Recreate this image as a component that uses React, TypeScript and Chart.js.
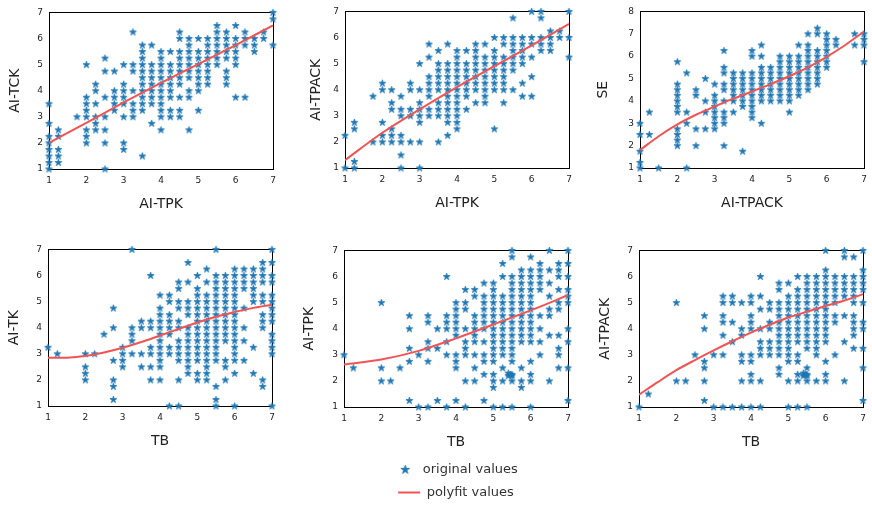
import { useEffect, useRef } from 'react';
import { Chart, registerables } from 'chart.js';

Chart.register(...registerables);
Chart.defaults.font.family = "'DejaVu Sans', 'Liberation Sans', sans-serif";

type Column = [number, number[]];

// Scatter observations, grouped by x value: [x, [y, y, ...]]
const tckVsTpk: Column[] = [
  [1, [1, 1.25, 1.5, 1.75, 2, 2.25, 2.75, 3.5]],
  [1.25, [1.25, 1.5, 1.75, 2.25, 2.5]],
  [1.75, [3]],
  [2, [2, 2.25, 2.5, 3, 3.25, 3.5, 3.75, 5]],
  [2.25, [2.5, 2.75, 3, 3.5, 4, 4.25]],
  [2.5, [1, 2, 2.5, 3, 3.75, 4.75, 5.25]],
  [2.75, [3.25, 3.5, 3.75, 4, 4.75]],
  [3, [1.75, 2, 3, 3.5, 3.75, 4, 4.25, 5]],
  [3.25, [3, 3.25, 3.5, 4, 4.75, 5, 6.25]],
  [3.5, [1.5, 3.25, 3.5, 3.75, 4, 4.25, 4.5, 4.75, 5, 5.25, 5.5, 5.75]],
  [3.75, [2.75, 3.5, 3.75, 4, 4.25, 4.5, 4.75, 5, 5.75]],
  [4, [2.5, 3, 3.25, 3.5, 3.75, 4, 4.25, 4.5, 4.75, 5, 5.25, 5.5]],
  [4.25, [3, 3.25, 3.75, 4, 4.25, 4.5, 4.75, 5, 5.5]],
  [4.5, [3, 3.25, 3.75, 4.25, 4.5, 4.75, 5, 5.25, 5.5, 6, 6.25]],
  [4.75, [2.5, 3.75, 4, 4.5, 4.75, 5, 5.25, 5.5, 5.75, 6]],
  [5, [3.25, 4, 4.25, 4.5, 4.75, 5, 5.25, 5.5, 6]],
  [5.25, [4.25, 4.5, 4.75, 5, 5.25, 5.5, 5.75, 6]],
  [5.5, [5, 5.25, 5.5, 5.75, 6, 6.25, 6.5]],
  [5.75, [4.25, 4.5, 4.75, 5.25, 5.5, 5.75, 6, 6.25]],
  [6, [3.75, 5, 5.25, 5.5, 5.75, 6, 6.5]],
  [6.25, [3.75, 5.75, 6, 6.25]],
  [6.5, [5.5, 5.75, 6]],
  [6.75, [6, 6.25]],
  [7, [5.75, 6.75, 7]],
];

const tpackVsTpk: Column[] = [
  [1, [1, 2.25]],
  [1.25, [1, 1.25, 2.5, 2.75]],
  [1.75, [2, 3.75]],
  [2, [2, 2.25, 2.75, 4, 4.25]],
  [2.25, [2, 2.25, 2.5, 3.25, 3.5, 4]],
  [2.5, [1, 1.5, 2, 2.25, 3, 3.25, 3.75]],
  [2.75, [2, 3, 3.25, 4, 4.25]],
  [3, [1, 2, 2.75, 3, 3.25, 3.5, 4, 5]],
  [3.25, [3, 3.25, 3.75, 4, 4.25, 4.5, 5.25, 5.75]],
  [3.5, [2, 3, 3.25, 3.5, 4, 4.25, 4.5, 4.75, 5, 5.5]],
  [3.75, [2.25, 2.75, 3, 3.25, 3.5, 3.75, 4, 4.25, 4.5, 4.75, 5, 5.75]],
  [4, [2.5, 2.75, 3, 3.25, 3.5, 3.75, 4, 4.25, 4.5, 4.75, 5, 5.25, 5.5]],
  [4.25, [3.25, 3.75, 4, 4.25, 4.5, 4.75, 5, 5.5]],
  [4.5, [3.5, 4, 4.25, 4.5, 4.75, 5, 5.25, 5.5, 5.75]],
  [4.75, [3.5, 3.75, 4, 4.25, 4.5, 4.75, 5, 5.25, 5.75]],
  [5, [2.5, 4, 4.25, 4.5, 4.75, 5, 5.25, 5.5, 6]],
  [5.25, [3.5, 4, 4.25, 4.5, 4.75, 5, 5.25, 5.75, 6]],
  [5.5, [4, 4.75, 5, 5.25, 5.5, 5.75, 6, 6.75]],
  [5.75, [3.75, 4.25, 5, 5.25, 5.5, 5.75, 6]],
  [6, [3.75, 4.5, 5.25, 5.75, 6, 7]],
  [6.25, [5.5, 5.75, 6, 6.75, 7]],
  [6.5, [5.5, 5.75, 6, 6.25]],
  [6.75, [6, 6.25]],
  [7, [5.25, 6, 7]],
];

const seVsTpack: Column[] = [
  [1, [1, 1.25, 1.75, 2.5, 3]],
  [1.25, [2.5, 3.5]],
  [1.5, [1]],
  [2, [2, 2.25, 2.5, 2.75, 3.5, 3.75, 4, 4.25, 4.5, 4.75, 5.75]],
  [2.25, [1, 3, 3.5, 5.25]],
  [2.5, [2, 2.75, 4.25, 4.5]],
  [2.75, [2.75, 3.5, 4, 5]],
  [3, [2.75, 3, 3.25, 3.5, 3.75, 4, 4.25, 4.75]],
  [3.25, [2, 3, 3.25, 3.5, 4, 4.5, 4.75, 5.25, 5.5, 6.25]],
  [3.5, [3.5, 4, 4.25, 4.5, 4.75, 5, 5.25]],
  [3.75, [1.75, 3.75, 4, 4.25, 4.5, 4.75, 5, 5.25]],
  [4, [3.25, 3.5, 3.75, 4, 4.25, 4.5, 4.75, 5, 5.25, 6, 6.25]],
  [4.25, [3, 4, 4.25, 4.5, 4.75, 5, 5.25, 5.5, 6, 6.5]],
  [4.5, [4, 4.25, 4.5, 4.75, 5, 5.25, 5.5]],
  [4.75, [4, 4.25, 4.5, 4.75, 5, 5.25, 5.5, 5.75, 6]],
  [5, [3.5, 4, 4.25, 4.5, 4.75, 5, 5.25, 5.5, 5.75, 6]],
  [5.25, [4.25, 4.5, 4.75, 5, 5.25, 5.5, 5.75, 6, 6.5]],
  [5.5, [4.5, 4.75, 5, 5.25, 5.5, 5.75, 6, 6.25, 6.5, 7]],
  [5.75, [4.75, 5, 5.25, 5.5, 5.75, 6, 6.25, 7, 7.25]],
  [6, [5.5, 5.75, 6, 6.25, 6.5, 6.75, 7]],
  [6.25, [6.5, 6.75]],
  [6.75, [6.5, 7]],
  [7, [5.75, 6.5, 6.75, 7]],
];

const tkVsTb: Column[] = [
  [1, [3.25]],
  [1.25, [3]],
  [2, [2, 2.25, 2.5, 3]],
  [2.25, [3]],
  [2.5, [3.75]],
  [2.75, [1.25, 1.75, 2, 2.75, 4, 4.75]],
  [3, [2.5, 2.75, 3, 3.25]],
  [3.25, [3, 3.5, 3.75, 4, 7]],
  [3.5, [2.5, 3, 4, 4.25]],
  [3.75, [2, 2.5, 3, 3.25, 4, 4.25, 6]],
  [4, [2, 2.5, 2.75, 3, 3.25, 3.5, 3.75, 4, 4.25, 4.5, 4.75, 5.25]],
  [4.25, [1, 3, 3.25, 3.75, 4, 4.25, 4.5, 5, 5.25]],
  [4.5, [1, 2, 2.75, 3, 3.25, 3.5, 4, 4.25, 4.75, 5, 5.5, 5.75]],
  [4.75, [2.25, 2.5, 2.75, 3, 3.25, 3.5, 3.75, 4, 4.5, 4.75, 5, 5.75, 6.5]],
  [5, [2, 2.25, 2.75, 3, 3.25, 3.5, 3.75, 4, 4.25, 4.5, 4.75, 5, 5.25, 5.5, 6]],
  [5.25, [2, 2.25, 2.5, 2.75, 3, 3.25, 3.5, 3.75, 4, 4.25, 4.5, 4.75, 5, 5.25, 5.75, 6.25]],
  [5.5, [1, 1.25, 1.75, 2.75, 3, 3.25, 3.5, 3.75, 4, 4.25, 4.5, 4.75, 5, 5.25, 5.5, 5.75, 6, 7]],
  [5.75, [2, 2.5, 2.75, 3.5, 3.75, 4, 4.25, 4.5, 4.75, 5, 5.25, 5.5, 5.75, 6]],
  [6, [1, 2.25, 2.75, 3, 3.25, 3.5, 3.75, 4, 4.25, 4.5, 4.75, 5, 5.25, 5.5, 5.75, 6, 6.25]],
  [6.25, [2.75, 3.5, 4, 4.75, 5.5, 5.75, 6, 6.25]],
  [6.5, [2.25, 3.25, 5, 5.25, 5.5, 5.75, 6, 6.25]],
  [6.75, [1.75, 2, 4, 4.25, 4.5, 5, 5.25, 5.75, 6, 6.25, 6.5]],
  [7, [1, 3, 3.25, 3.5, 3.75, 4.25, 4.5, 4.75, 5, 5.25, 5.75, 6, 6.5, 7]],
];

const tpkVsTb: Column[] = [
  [1, [3]],
  [1.25, [2.5]],
  [2, [2, 2.5, 5]],
  [2.25, [2]],
  [2.5, [2.5]],
  [2.75, [1.25, 2.75, 3.25, 4, 4.5]],
  [3, [1, 3]],
  [3.25, [1, 2.75, 3.25, 3.5, 4.25, 4.5]],
  [3.5, [1.25, 3.25, 4]],
  [3.75, [1, 3, 3.5, 4, 4.25, 4.5, 6]],
  [4, [1.25, 2.5, 2.75, 3, 3.75, 4, 4.25, 4.5, 4.75, 5]],
  [4.25, [1, 2, 3, 3.25, 3.5, 4, 4.75, 5, 5.5]],
  [4.5, [2, 2.5, 3, 3.5, 3.75, 4, 4.25, 4.5, 5.25, 5.5]],
  [4.75, [1.25, 2.25, 2.75, 3, 3.5, 4, 4.25, 4.5, 4.75, 5, 5.25, 5.75]],
  [5, [1, 1.75, 2, 2.25, 2.75, 3, 3.25, 3.5, 3.75, 4, 4.25, 4.5, 4.75, 5, 5.25, 5.5, 5.75]],
  [5.25, [1, 2, 2.5, 3, 3.25, 3.5, 3.75, 4, 4.25, 4.5, 4.75, 5, 5.25, 6, 6.5]],
  [5.4, [2.2, 2.3]],
  [5.45, [2.25]],
  [5.5, [1, 2, 2.2, 2.25, 2.75, 3, 3.25, 3.5, 3.75, 4, 4.25, 4.5, 4.75, 5, 5.25, 5.5, 5.75, 6, 6.75, 7]],
  [5.75, [1.75, 2, 2.5, 3.5, 3.75, 4, 4.25, 4.5, 4.75, 5, 5.25, 5.5, 5.75, 6, 6.25]],
  [6, [1, 2, 2.25, 2.75, 3.5, 3.75, 4, 4.25, 4.5, 4.75, 5, 5.25, 5.5, 5.75, 6, 6.25, 6.75]],
  [6.25, [3, 3.5, 4, 4.5, 5.5, 5.75, 6, 6.25, 6.5]],
  [6.5, [2, 3.75, 4.5, 4.75, 5.25, 5.75, 6.25, 7]],
  [6.75, [2.5, 3, 3.25, 3.75, 4.75, 5, 5.5, 6, 6.25, 6.5]],
  [7, [1.25, 2.5, 3.5, 4, 5, 5.25, 5.5, 6, 6.5, 7]],
];

const tpackVsTb: Column[] = [
  [1, [1]],
  [1.25, [1.5]],
  [2, [2, 5]],
  [2.25, [2]],
  [2.5, [3]],
  [2.75, [1.25, 2, 2.5, 2.75, 4, 4.5]],
  [3, [1, 3]],
  [3.25, [1, 3, 3.75, 4.25, 4.5, 5, 5.25]],
  [3.5, [1, 3.5, 4.25, 5, 5.25]],
  [3.75, [1, 2, 2.75, 3, 3.75, 4, 5]],
  [4, [1, 2, 2.25, 2.75, 3, 4, 4.25, 4.5, 5, 5.25]],
  [4.25, [1, 2, 3, 3.25, 3.5, 4, 4.75, 5.25, 6]],
  [4.5, [3, 3.25, 3.5, 4, 4.25, 4.75, 5]],
  [4.75, [2.25, 2.5, 3, 3.25, 3.5, 3.75, 4, 4.25, 4.5, 4.75, 5, 5.5, 5.75]],
  [5, [1, 2, 2.75, 3, 3.25, 3.5, 3.75, 4, 4.25, 4.5, 4.75, 5, 5.25, 5.75]],
  [5.25, [1, 2, 2.25, 2.75, 3, 3.5, 3.75, 4, 4.25, 4.5, 4.75, 5, 5.25, 5.5, 6]],
  [5.4, [2.2, 2.3]],
  [5.45, [2.25]],
  [5.5, [1, 2, 2.2, 2.25, 2.5, 3.25, 3.5, 3.75, 4, 4.25, 4.5, 4.75, 5, 5.25, 5.5, 5.75, 6]],
  [5.75, [2, 3, 3.25, 3.5, 3.75, 4, 4.25, 4.5, 4.75, 5, 5.25, 5.5, 5.75, 6]],
  [6, [2, 2.25, 2.75, 3.5, 3.75, 4, 4.25, 4.5, 4.75, 5, 5.25, 5.5, 5.75, 6, 6.25, 7]],
  [6.25, [3, 4.25, 4.5, 5, 5.25, 5.5, 5.75, 6]],
  [6.5, [2, 3.5, 4.5, 5.25, 5.5, 5.75, 6, 6.75, 7]],
  [6.75, [3.25, 3.75, 4, 4.25, 4.5, 5, 5.25, 5.5, 5.75, 6, 6.75]],
  [7, [1.25, 2.5, 3.25, 4, 4.25, 5, 5.5, 5.75, 6, 6.25, 7]],
];

// Polynomial fit curves, sampled along x
const fitXInt = [1, 2, 3, 4, 5, 6, 7];
const fitXHalf = [1, 1.5, 2, 2.5, 3, 3.5, 4, 4.5, 5, 5.5, 6, 6.5, 7];
const tckFit = [2.0, 2.77, 3.55, 4.3, 5.02, 5.75, 6.5];
const tpackFit = [1.3, 2.35, 3.25, 4.1, 4.9, 5.7, 6.52];
const seFit = [1.8, 2.42, 2.95, 3.38, 3.75, 4.1, 4.42, 4.75, 5.1, 5.5, 5.97, 6.5, 7.1];
const tkTbFit = [2.85, 2.85, 2.92, 3.05, 3.23, 3.45, 3.7, 3.95, 4.2, 4.42, 4.6, 4.76, 4.88];
const tpkTbFit = [2.63, 2.82, 3.15, 3.63, 4.16, 4.7, 5.28];
const tpackTbFit = [1.47, 1.95, 2.41, 2.8, 3.17, 3.52, 3.85, 4.15, 4.43, 4.65, 4.87, 5.08, 5.32];

const BLUE = '#1f77b4';
const RED = '#f05454';
const TEXT = '#222222';

const PLOT_W = 224;
const PLOT_H = 158;
const AXIS_W = 50;
const AXIS_H = 48;
const PAD_TOP = 10;
const PAD_RIGHT = 16;
const PAD_BOTTOM = 4;

function makeStar(r: number, color: string): HTMLCanvasElement {
  const size = Math.ceil(2 * r + 3);
  const c = document.createElement('canvas');
  c.width = size;
  c.height = size;
  const ctx = c.getContext('2d')!;
  const cx = size / 2;
  const cy = size / 2 + r * 0.06;
  ctx.beginPath();
  for (let i = 0; i < 10; i++) {
    const rad = i % 2 === 0 ? r : r * 0.382;
    const a = -Math.PI / 2 + (i * Math.PI) / 5;
    const px = cx + rad * Math.cos(a);
    const py = cy + rad * Math.sin(a);
    if (i === 0) ctx.moveTo(px, py);
    else ctx.lineTo(px, py);
  }
  ctx.closePath();
  ctx.fillStyle = color;
  ctx.fill();
  ctx.lineWidth = 0.8;
  ctx.strokeStyle = color;
  ctx.stroke();
  return c;
}

// Black frame around the plotting area, drawn under the markers
const framePlugin = {
  id: 'frame',
  beforeDatasetsDraw(chart: any) {
    const { ctx, chartArea: a } = chart;
    ctx.save();
    ctx.strokeStyle = '#000';
    ctx.lineWidth = 1;
    ctx.strokeRect(
      Math.round(a.left) + 0.5,
      Math.round(a.top) + 0.5,
      Math.round(a.right - a.left),
      Math.round(a.bottom - a.top)
    );
    ctx.restore();
  },
};

type PanelProps = {
  left: number;
  top: number;
  yMax: number;
  xTitle: string;
  yTitle: string;
  titleGap: number;
  columns: Column[];
  fitX: number[];
  fitY: number[];
};

function Panel({ left, top, yMax, xTitle, yTitle, titleGap, columns, fitX, fitY }: PanelProps) {
  const ref = useRef<HTMLCanvasElement>(null);
  const width = AXIS_W + PLOT_W + PAD_RIGHT;
  const height = PAD_TOP + PLOT_H + AXIS_H + PAD_BOTTOM;

  useEffect(() => {
    if (!ref.current) return;
    const star = makeStar(3.6, BLUE);
    const points = columns.flatMap(([x, ys]) => ys.map((y) => ({ x, y })));
    const curve = fitX.map((x, i) => ({ x, y: fitY[i] }));
    const tickFont = { size: 9 };
    const chart = new Chart(ref.current, {
      type: 'scatter',
      data: {
        datasets: [
          {
            type: 'line',
            label: 'polyfit values',
            data: curve,
            borderColor: RED,
            borderWidth: 2,
            pointRadius: 0,
            cubicInterpolationMode: 'monotone',
            fill: false,
            order: 0,
          } as any,
          {
            label: 'original values',
            data: points,
            pointStyle: star,
            pointRadius: 4,
            backgroundColor: BLUE,
            borderColor: BLUE,
            clip: false,
            order: 1,
          } as any,
        ],
      },
      options: {
        responsive: false,
        animation: false,
        events: [],
        layout: { padding: { top: PAD_TOP, right: PAD_RIGHT, bottom: PAD_BOTTOM, left: 0 } },
        plugins: { legend: { display: false }, tooltip: { enabled: false } },
        scales: {
          x: {
            type: 'linear',
            min: 1,
            max: 7,
            grid: { display: false, drawTicks: false },
            border: { display: false },
            ticks: { stepSize: 1, padding: 6, color: TEXT, font: tickFont, maxRotation: 0 },
            title: {
              display: true,
              text: xTitle,
              color: TEXT,
              font: { size: 14 },
              padding: { top: 0, bottom: 4 },
            },
            afterFit: (s: any) => {
              s.height = AXIS_H;
            },
          },
          y: {
            type: 'linear',
            min: 1,
            max: yMax,
            grid: { display: false, drawTicks: false },
            border: { display: false },
            ticks: { stepSize: 1, padding: 6, color: TEXT, font: tickFont },
            title: {
              display: true,
              text: yTitle,
              color: TEXT,
              font: { size: 14 },
              padding: { top: AXIS_W - titleGap - 8.4, bottom: 0 },
            },
            afterFit: (s: any) => {
              s.width = AXIS_W;
            },
          },
        },
      } as any,
      plugins: [framePlugin],
    });
    return () => chart.destroy();
  }, [columns, fitX, fitY, xTitle, yTitle, yMax, titleGap]);

  return (
    <canvas
      ref={ref}
      width={width}
      height={height}
      style={{
        position: 'absolute',
        left: left - AXIS_W,
        top: top - PAD_TOP,
        width,
        height,
      }}
    />
  );
}

function Legend({ left, top }: { left: number; top: number }) {
  const ref = useRef<HTMLCanvasElement>(null);
  const width = 200;
  const height = 120;
  useEffect(() => {
    if (!ref.current) return;
    const star = makeStar(4.6, BLUE);
    const chart = new Chart(ref.current, {
      type: 'line',
      data: {
        datasets: [
          {
            label: 'original values',
            data: [],
            showLine: false,
            pointStyle: star,
            backgroundColor: BLUE,
            borderColor: BLUE,
          } as any,
          {
            label: 'polyfit values',
            data: [],
            pointStyle: 'line',
            borderColor: RED,
            backgroundColor: RED,
            borderWidth: 2,
          } as any,
        ],
      },
      options: {
        responsive: false,
        animation: false,
        events: [],
        scales: { x: { display: false }, y: { display: false } },
        plugins: {
          tooltip: { enabled: false },
          legend: {
            display: true,
            position: 'top',
            maxHeight: 60,
            labels: {
              usePointStyle: true,
              pointStyleWidth: 22,
              color: '#333',
              font: { size: 13 },
              padding: 10,
            },
          },
        },
      } as any,
    });
    return () => chart.destroy();
  }, []);
  return (
    <canvas
      ref={ref}
      width={width}
      height={height}
      style={{ position: 'absolute', left, top, width, height }}
    />
  );
}

export default function App() {
  return (
    <div
      style={{
        position: 'fixed',
        left: 0,
        top: 0,
        width: 872,
        height: 506,
        background: '#fff',
        overflow: 'hidden',
      }}
    >
      <Panel left={49} top={11} yMax={7} xTitle="AI-TPK" yTitle="AI-TCK" titleGap={34} columns={tckVsTpk} fitX={fitXInt} fitY={tckFit} />
      <Panel left={345} top={10} yMax={7} xTitle="AI-TPK" yTitle="AI-TPACK" titleGap={29} columns={tpackVsTpk} fitX={fitXInt} fitY={tpackFit} />
      <Panel left={640} top={10} yMax={8} xTitle="AI-TPACK" yTitle="SE" titleGap={37} columns={seVsTpack} fitX={fitXHalf} fitY={seFit} />
      <Panel left={48} top={248} yMax={7} xTitle="TB" yTitle="AI-TK" titleGap={34} columns={tkVsTb} fitX={fitXHalf} fitY={tkTbFit} />
      <Panel left={344} top={249} yMax={7} xTitle="TB" yTitle="AI-TPK" titleGap={35} columns={tpkVsTb} fitX={fitXInt} fitY={tpkTbFit} />
      <Panel left={639} top={249} yMax={7} xTitle="TB" yTitle="AI-TPACK" titleGap={34} columns={tpackVsTb} fitX={fitXHalf} fitY={tpackTbFit} />
      <Legend left={356} top={453} />
    </div>
  );
}
